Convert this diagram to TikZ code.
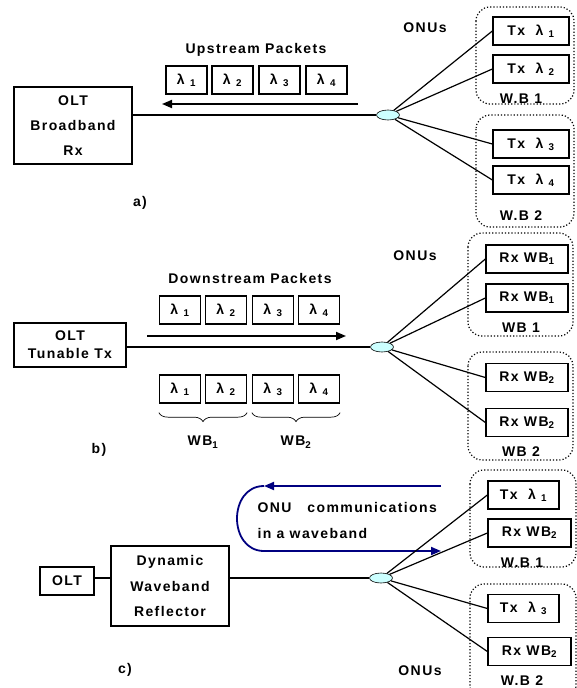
\documentclass[tikz,border=0pt]{standalone}
\usepackage{fontspec}
\setmainfont[LetterSpace=10]{Liberation Sans}
\usetikzlibrary{positioning,arrows.meta,shapes.geometric,decorations.pathreplacing}
\definecolor{navy}{HTML}{000080}
\definecolor{splfill}{HTML}{CCFFFF}
\newcommand{\lam}[1]{λ\ \textsubscript{#1}}

\begin{document}
\begin{tikzpicture}[x=1pt,y=-1pt,
    every node/.style={font=\bfseries\fontsize{14}{16}\selectfont},
    box/.style={draw,line width=1.3pt,inner sep=0pt,align=center},
    pkt/.style={box,minimum width=41pt,minimum height=28pt},
    onu/.style={box,minimum height=28pt},
    grp/.style={draw,dotted,line width=1.2pt,rounded corners=14pt},
    fib/.style={line width=1.8pt},
    drop/.style={line width=1.2pt},
    spl/.style={ellipse,draw,fill=splfill,line width=0.6pt,minimum width=23pt,minimum height=10pt,inner sep=0pt},
    arr/.style={line width=1.8pt,-{Triangle[length=10pt,width=8pt]}},
    loop/.style={navy,line width=1.8pt,-{Triangle[length=10pt,width=8pt]}},
    wbrace/.style={decorate,decoration={brace,mirror,amplitude=9pt},line width=0.7pt}]
  \useasboundingbox (0,0) rectangle (577,688);

  % a) upstream
  \node[box,minimum width=118pt,minimum height=77pt,font=\bfseries\fontsize{14}{25}\selectfont] (olta) at (73,125.5) {OLT\\Broadband\\Rx};
  \node[spl] (spla) at (388,115) {};
  \draw[fib] (spla.west) -- (spla.west -| olta.east);
  \coordinate (ua1) at (358,104);
  \coordinate (ua2) at (162,104);
  \draw[arr] (ua1) -- (ua2);
  \node (upk) at (256,50) {Upstream Packets};
  \foreach \i/\x in {1/186.5,2/232.5,3/279.5,4/326.5}
    \node[pkt] (pa\i) at (\x,80) {\lam{\i}};
  \node (onua) at (425,28) {ONUs};
  \draw[grp] (476,7) rectangle (574,104);
  \draw[grp] (476,115) rectangle (574,227);
  \foreach \i/\y in {1/31,2/69,3/144,4/180}{
    \node[onu,minimum width=76pt] (ta\i) at (531,\y) {Tx\ \ \lam{\i}};
    \draw[drop] (spla) -- (ta\i.west);
  }
  \node (wla1) at (521,99) {W.B 1};
  \node (wla2) at (521,216) {W.B 2};
  \node (capa) at (140,203) {a)};

  % b) downstream
  \node[box,minimum width=112pt,minimum height=44pt,font=\bfseries\fontsize{14}{18}\selectfont] (oltb) at (70,345) {OLT\\Tunable Tx};
  \node[spl] (splb) at (382,347) {};
  \draw[fib] (splb.west) -- (splb.west -| oltb.east);
  \coordinate (da1) at (147,336);
  \coordinate (da2) at (346,336);
  \draw[arr] (da1) -- (da2);
  \node (dpk) at (250,278) {Downstream Packets};
  \foreach \i/\x in {1/180,2/226,3/273,4/319}{
    \node[pkt] (pb\i) at (\x,310) {\lam{\i}};
    \node[pkt] (qb\i) at (\x,389) {\lam{\i}};
  }
  \draw[wbrace] ([yshift=-9pt]qb1.south west) -- ([yshift=-9pt]qb2.south east) node[midway,below=20pt] (wbl1) {WB\textsubscript{1}};
  \draw[wbrace] ([yshift=-9pt]qb3.south west) -- ([yshift=-9pt]qb4.south east) node[midway,below=20pt] (wbl2) {WB\textsubscript{2}};
  \node (capb) at (99,450) {b)};
  \node (onub) at (415,256) {ONUs};
  \draw[grp] (468,233) rectangle (573,336);
  \draw[grp] (468,352) rectangle (573,460);
  \foreach \i/\y/\w in {1/259/1,2/298/1,3/377.5/2,4/422.5/2}{
    \node[onu,minimum width=82pt] (rb\i) at (527,\y) {Rx WB\textsubscript{\w}};
    \draw[drop] (splb) -- (rb\i.west);
  }
  \node (wlb1) at (521,328) {WB 1};
  \node (wlb2) at (521,452) {WB 2};

  % c) waveband reflector
  \node[box,minimum width=54pt,minimum height=28pt] (oltc) at (67,581) {OLT};
  \node[box,minimum width=118pt,minimum height=80pt,font=\bfseries\fontsize{14}{25.5}\selectfont] (dwr) at (170,586) {Dynamic\\Waveband\\Reflector};
  \node[spl] (splc) at (381,578) {};
  \draw[fib] (oltc.east |- splc) -- (dwr.west |- splc);
  \draw[fib] (splc.west) -- (splc.west -| dwr.east);
  \coordinate (lta) at (441,486);
  \coordinate (ltb) at (264,486);
  \coordinate (lbb) at (264,551);
  \coordinate (lba) at (441,551);
  \draw[loop] (lta) -- (ltb);
  \draw[loop] (ltb) .. controls (228,486) and (228,551) .. (lbb) -- (lba);
  \node[anchor=west] (cm1) at (254,507) {ONU\hspace{16pt}communications};
  \node[anchor=west] (cm2) at (254,533) {in a waveband};
  \node (capc) at (125,670) {c)};
  \node (onuc) at (420,671) {ONUs};
  \draw[grp] (470,470) rectangle (576,567);
  \draw[grp] (470,584) rectangle (576,700);
  \node[onu,minimum width=71pt] (tc1) at (523.5,495) {Tx\ \ \lam{1}};
  \node[onu,minimum width=83pt] (rc2) at (529.5,533) {Rx WB\textsubscript{2}};
  \node[onu,minimum width=71pt] (tc3) at (523.5,608.5) {Tx\ \ \lam{3}};
  \node[onu,minimum width=83pt] (rc4) at (529.5,651.5) {Rx WB\textsubscript{2}};
  \foreach \o in {tc1,rc2,tc3,rc4}
    \draw[drop] (splc) -- (\o.west);
  \node (wlc1) at (522,563) {W.B 1};
  \node (wlc2) at (522,681) {W.B 2};
\end{tikzpicture}
\end{document}
